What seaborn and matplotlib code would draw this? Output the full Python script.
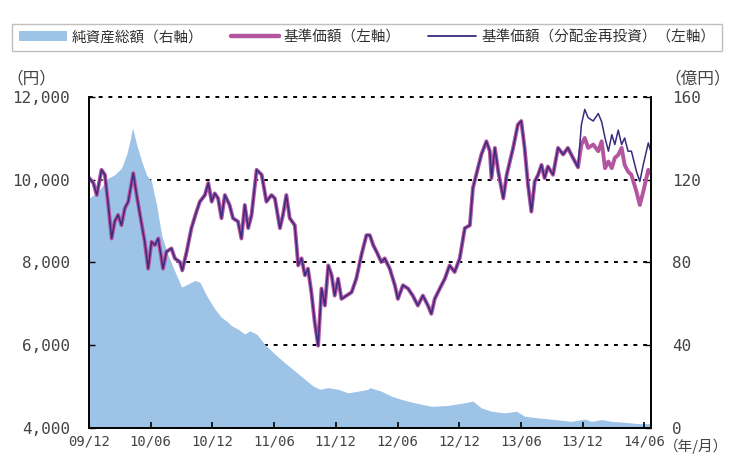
import pandas as pd
import matplotlib
matplotlib.use("Agg")
import matplotlib.pyplot as plt
from matplotlib.patches import Patch
from matplotlib.lines import Line2D
from matplotlib.ticker import FuncFormatter
import seaborn as sns

# 純資産総額(億円) - 右軸
asset_dates = ["2009-12-01", "2009-12-28", "2010-01-27", "2010-02-15", "2010-03-07", "2010-03-22",
               "2010-04-01", "2010-04-09", "2010-04-21", "2010-05-06", "2010-05-20", "2010-06-04",
               "2010-06-19", "2010-07-04", "2010-07-23", "2010-08-17", "2010-09-01", "2010-09-21",
               "2010-10-10", "2010-10-25", "2010-11-14", "2010-12-08", "2010-12-28", "2011-01-17",
               "2011-01-27", "2011-02-15", "2011-03-07", "2011-03-22", "2011-04-11", "2011-05-05",
               "2011-06-04", "2011-07-03", "2011-08-02", "2011-09-01", "2011-09-25", "2011-10-15",
               "2011-11-09", "2011-12-08", "2012-01-07", "2012-02-05", "2012-03-06", "2012-03-11",
               "2012-04-14", "2012-05-14", "2012-06-13", "2012-07-21", "2012-09-09", "2012-10-28",
               "2012-12-17", "2013-01-10", "2013-02-04", "2013-03-06", "2013-04-15", "2013-05-19",
               "2013-06-12", "2013-07-22", "2013-09-09", "2013-10-28", "2013-12-07", "2013-12-27",
               "2014-01-26", "2014-02-25", "2014-04-04", "2014-05-14", "2014-06-20"]
asset_values = [111, 114.3, 120.8, 122.4, 125.6, 132, 138.6, 145.1, 137, 128.9, 122.4, 119.1,
                107.8, 93.2, 83.5, 73.8, 68.1, 69.7, 71.3, 70.5, 64, 57.6, 53.5, 51.1,
                49.4, 47.8, 45.4, 47, 45.4, 40.5, 35.7, 31.6, 27.6, 23.5, 20.3, 18.7,
                19.5, 18.7, 17, 17.8, 18.7, 19.5, 17.8, 15.4, 13.8, 12.2, 10.5, 10.9,
                12.2, 13, 9.7, 8.1, 7.3, 8.1, 5.7, 4.9, 4.1, 3.2, 4.3, 3.2,
                4.1, 3.2, 2.8, 2.1, 2.1]

# 基準価額(円) - 分配前は2本が重なる
common_dates = ["2009-12-01", "2009-12-14", "2009-12-24", "2010-01-07", "2010-01-17", "2010-01-27",
                "2010-02-06", "2010-02-15", "2010-02-25", "2010-03-07", "2010-03-17", "2010-03-27",
                "2010-04-11", "2010-04-21", "2010-05-01", "2010-05-15", "2010-05-25", "2010-06-04",
                "2010-06-14", "2010-06-24", "2010-07-08", "2010-07-18", "2010-08-02", "2010-08-12",
                "2010-08-27", "2010-09-03", "2010-09-16", "2010-09-30", "2010-10-15", "2010-10-25",
                "2010-11-09", "2010-11-19", "2010-11-29", "2010-12-08", "2010-12-18", "2010-12-28",
                "2011-01-07", "2011-01-21", "2011-01-31", "2011-02-15", "2011-02-25", "2011-03-07",
                "2011-03-17", "2011-03-27", "2011-04-11", "2011-04-26", "2011-05-10", "2011-05-25",
                "2011-06-04", "2011-06-19", "2011-06-28", "2011-07-08", "2011-07-18", "2011-08-02",
                "2011-08-12", "2011-08-22", "2011-09-01", "2011-09-10", "2011-09-20", "2011-09-30",
                "2011-10-10", "2011-10-20", "2011-10-30", "2011-11-09", "2011-11-19", "2011-11-28",
                "2011-12-08", "2011-12-18", "2012-01-02", "2012-01-17", "2012-01-31", "2012-02-15",
                "2012-03-01", "2012-03-11", "2012-03-21", "2012-03-31", "2012-04-14", "2012-04-24",
                "2012-05-09", "2012-05-24", "2012-06-02", "2012-06-17", "2012-07-02", "2012-07-16",
                "2012-07-31", "2012-08-15", "2012-08-30", "2012-09-09", "2012-09-19", "2012-10-04",
                "2012-10-19", "2012-11-02", "2012-11-17", "2012-12-02", "2012-12-17", "2013-01-01",
                "2013-01-10", "2013-01-20", "2013-02-04", "2013-02-19", "2013-03-01", "2013-03-06",
                "2013-03-16", "2013-03-26", "2013-04-10", "2013-04-20", "2013-05-09", "2013-05-23",
                "2013-06-02", "2013-06-12", "2013-06-22", "2013-07-02", "2013-07-12", "2013-07-22",
                "2013-08-01", "2013-08-10", "2013-08-20", "2013-09-04", "2013-09-19", "2013-10-04",
                "2013-10-18", "2013-11-02", "2013-11-17"]
common_nav = [10050, 9920, 9630, 10240, 10120, 9390,
              8580, 8990, 9150, 8900, 9310, 9470,
              10160, 9630, 9150, 8500, 7850, 8500,
              8420, 8580, 7850, 8260, 8340, 8100,
              8010, 7810, 8260, 8830, 9230, 9470,
              9630, 9920, 9470, 9670, 9550, 9070,
              9630, 9390, 9070, 8990, 8580, 9390,
              8830, 9150, 10240, 10120, 9470, 9630,
              9550, 8830, 9150, 9630, 9070, 8900,
              7930, 8100, 7690, 7850, 7280, 6550,
              5990, 7370, 6960, 7930, 7690, 7200,
              7610, 7120, 7200, 7280, 7610, 8180,
              8660, 8660, 8420, 8260, 8010, 8100,
              7850, 7450, 7120, 7450, 7370, 7200,
              6960, 7200, 6960, 6760, 7120, 7370,
              7610, 7930, 7770, 8100, 8830, 8900,
              9800, 10120, 10610, 10930, 10690, 10040,
              10770, 10200, 9550, 10120, 10770, 11330,
              11420, 10770, 9880, 9230, 9960, 10120,
              10360, 10040, 10320, 10120, 10770, 10610,
              10770, 10530, 10300]

# 分配後: 基準価額と分配金再投資が分かれる
post_dates = ["2013-11-27", "2013-12-07", "2013-12-17", "2014-01-01", "2014-01-16", "2014-01-26",
              "2014-02-05", "2014-02-15", "2014-02-25", "2014-03-06", "2014-03-16", "2014-03-26",
              "2014-04-04", "2014-04-14", "2014-04-24", "2014-05-09", "2014-05-19", "2014-05-29",
              "2014-06-13", "2014-06-20"]
post_nav = [10850, 11010, 10770, 10850, 10690, 10930,
            10280, 10440, 10280, 10530, 10600, 10770,
            10360, 10200, 10120, 9710, 9390, 9710,
            10240, 10150]
post_reinvest = [11330, 11700, 11500, 11420, 11600, 11400,
                 11010, 10690, 11090, 10850, 11200, 10850,
                 11010, 10690, 10690, 10200, 9960, 10360,
                 10890, 10700]

x_ticks = pd.date_range("2009-12-01", "2014-06-01", freq="6MS")
labels = ["純資産総額（右軸）", "基準価額（左軸）", "基準価額（分配金再投資）（左軸）"]

BLUE = "#9dc3e6"
MAGENTA = "#b4559f"
DARK = "#3a2a80"
TXT = "#444444"

asset_df = pd.DataFrame({"date": pd.to_datetime(asset_dates), "value": asset_values})
nav_df = pd.DataFrame({"date": pd.to_datetime(common_dates + post_dates), "value": common_nav + post_nav})
reinv_df = pd.DataFrame({"date": pd.to_datetime(common_dates + post_dates), "value": common_nav + post_reinvest})

sns.set_theme(style="white")
plt.rcParams['font.family'] = ['Noto Sans CJK JP', 'DejaVu Sans']

fig = plt.figure(figsize=(7.33, 4.57), dpi=100)
ax = fig.add_axes([89 / 733, 1 - 428 / 457, (651 - 89) / 733, (428 - 97) / 457])
ax2 = ax.twinx()
ax.set_zorder(ax2.get_zorder() + 1)
ax.patch.set_visible(False)

# 面グラフ(右軸)と点線グリッド
ax2.fill_between(asset_df["date"], asset_df["value"], 0, color=BLUE, lw=0, zorder=2)
ax2.set_ylim(0, 160)
ax2.set_yticks([0, 40, 80, 120, 160])
ax2.grid(True, axis="y", color="black", linestyle=(0, (2, 3)), linewidth=1.4)
ax2.set_axisbelow(True)
for gl in ax2.get_ygridlines():
    gl.set_clip_on(False)

# 基準価額(左軸)
sns.lineplot(data=nav_df, x="date", y="value", ax=ax, color=MAGENTA, linewidth=2.8)
sns.lineplot(data=reinv_df, x="date", y="value", ax=ax, color=DARK, linewidth=1.1)
ax.set_xlabel("")
ax.set_ylabel("")
ax.set_ylim(4000, 12000)
ax.set_yticks(range(4000, 12001, 2000))
ax.yaxis.set_major_formatter(FuncFormatter(lambda v, p: f"{v:,.0f}"))
ax.set_xlim(pd.Timestamp("2009-12-01"), pd.Timestamp("2014-06-21"))
ax.set_xticks(x_ticks)
ax.set_xticklabels([d.strftime("%y/%m") for d in x_ticks])

for a in (ax, ax2):
    a.spines["top"].set_visible(False)
    for s in ("left", "right", "bottom"):
        a.spines[s].set_color("black")
        a.spines[s].set_linewidth(1.2)

ax.tick_params(axis="y", left=True, direction="in", length=4, width=1, color="black",
               pad=13.5, labelsize=11.5, labelcolor=TXT)
ax.tick_params(axis="x", bottom=True, direction="in", length=4, width=1.2, color="black",
               pad=5, labelsize=10, labelcolor=TXT)
ax2.tick_params(axis="y", right=True, direction="in", length=4, width=1, color="black",
                pad=15, labelsize=11.5, labelcolor=TXT)
for lbl in ax.get_xticklabels() + ax.get_yticklabels() + ax2.get_yticklabels():
    lbl.set_fontfamily("DejaVu Sans Mono")

fig.text(31 / 733, 1 - 79 / 457, "（円）", ha="center", va="center", fontsize=12, color=TXT)
fig.text(698 / 733, 1 - 79 / 457, "（億円）", ha="center", va="center", fontsize=12, color=TXT)
fig.text(664 / 733, 1 - 446 / 457, "（年/月）", ha="left", va="center", fontsize=10.5, color=TXT)

handles = [Patch(facecolor=BLUE, edgecolor="none"),
           Line2D([], [], color=MAGENTA, lw=3.2),
           Line2D([], [], color=DARK, lw=1.3)]
leg = fig.legend(handles, labels, loc="lower left",
                 bbox_to_anchor=(12 / 733, 1 - 51 / 457, 710 / 733, 31 / 457),
                 mode="expand", ncol=3, frameon=True, fancybox=False, fontsize=10.5,
                 handlelength=3.3, handletextpad=0.35, borderaxespad=0, borderpad=0.45)
leg.get_frame().set_edgecolor("#b0b0b0")
leg.get_frame().set_linewidth(1.0)
for t in leg.get_texts():
    t.set_color("#333333")

fig.savefig("out.png", dpi=100)
